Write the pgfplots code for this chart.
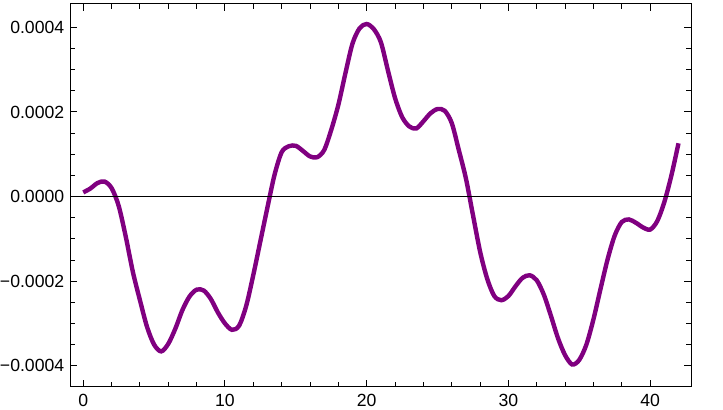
\documentclass[border=0pt]{standalone}
\usepackage{fontspec}
\setmainfont{Liberation Sans}
\usepackage{pgfplots}
\pgfplotsset{compat=1.18}
\definecolor{curve}{RGB}{128,0,128}

\begin{document}
\fontsize{8.8}{10}\selectfont
\begin{tikzpicture}
\begin{axis}[
    scale only axis,
    width=310pt, height=191.3pt,
    xmin=-0.92, xmax=42.9,
    ymin=-0.000450, ymax=0.000456,
    axis line style={black, line width=0.5pt},
    tick style={black, line width=0.5pt},
    tick align=inside,
    major tick length=3.5pt,
    minor tick length=2.5pt,
    xtick={0,10,20,30,40},
    minor x tick num=4,
    ytick={-0.0004,-0.0002,0,0.0002,0.0004},
    yticklabels={−0.0004,−0.0002,0.0000,0.0002,0.0004},
    minor y tick num=3,
    scaled y ticks=false,
    /pgf/number format/assume math mode=true,
    xticklabel style={inner sep=0pt, yshift=-3.5pt},
    yticklabel style={inner sep=0pt, xshift=-2.8pt},
    clip=true,
]
\addplot [curve, line width=2.2pt, smooth, line cap=butt] coordinates {
(0.0, 0.10e-4) (0.5, 0.19e-4) (1.0, 0.32e-4) (1.5, 0.355e-4)
(2.0, 0.20e-4) (2.5, -0.22e-4) (3.0, -0.95e-4) (3.5, -1.78e-4)
(4.0, -2.45e-4) (4.5, -3.08e-4) (5.0, -3.50e-4) (5.5, -3.66e-4)
(6.0, -3.48e-4) (6.5, -3.12e-4) (7.0, -2.68e-4) (7.5, -2.36e-4)
(8.0, -2.20e-4) (8.5, -2.22e-4) (9.0, -2.42e-4) (9.5, -2.74e-4)
(10.0, -3.00e-4) (10.5, -3.15e-4) (11.0, -3.05e-4) (11.5, -2.58e-4)
(12.0, -1.85e-4) (12.5, -1.05e-4) (13.0, -0.25e-4) (13.5, 0.52e-4)
(14.0, 1.05e-4) (14.5, 1.19e-4) (15.0, 1.20e-4) (15.5, 1.08e-4)
(16.0, 0.95e-4) (16.5, 0.93e-4) (17.0, 1.10e-4) (17.5, 1.58e-4)
(18.0, 2.17e-4) (18.5, 2.92e-4) (19.0, 3.62e-4) (19.5, 3.98e-4)
(20.0, 4.08e-4) (20.5, 3.96e-4) (21.0, 3.65e-4) (21.5, 2.98e-4)
(22.0, 2.33e-4) (22.5, 1.88e-4) (23.0, 1.66e-4) (23.5, 1.61e-4)
(24.0, 1.78e-4) (24.5, 1.97e-4) (25.0, 2.07e-4) (25.5, 2.03e-4)
(26.0, 1.74e-4) (26.5, 1.10e-4) (27.0, 0.43e-4) (27.5, -0.44e-4)
(28.0, -1.30e-4) (28.5, -1.94e-4) (29.0, -2.35e-4) (29.5, -2.45e-4)
(30.0, -2.35e-4) (30.5, -2.12e-4) (31.0, -1.92e-4) (31.5, -1.86e-4)
(32.0, -1.98e-4) (32.5, -2.32e-4) (33.0, -2.82e-4) (33.5, -3.35e-4)
(34.0, -3.75e-4) (34.5, -3.97e-4) (35.0, -3.86e-4) (35.5, -3.50e-4)
(36.0, -2.90e-4) (36.5, -2.18e-4) (37.0, -1.48e-4) (37.5, -0.92e-4)
(38.0, -0.60e-4) (38.5, -0.54e-4) (39.0, -0.62e-4) (39.5, -0.73e-4)
(40.0, -0.78e-4) (40.5, -0.58e-4) (41.0, -0.13e-4) (41.5, 0.50e-4)
(42.0, 1.26e-4)
};
% zero line
\addplot [black, line width=0.5pt] coordinates {(-0.92,0) (42.9,0)};
\end{axis}
\path (current axis.north east) ++(15.85pt,1.85pt);
\path (current axis.south west) ++(0pt,-11.35pt);
\end{tikzpicture}
\end{document}
